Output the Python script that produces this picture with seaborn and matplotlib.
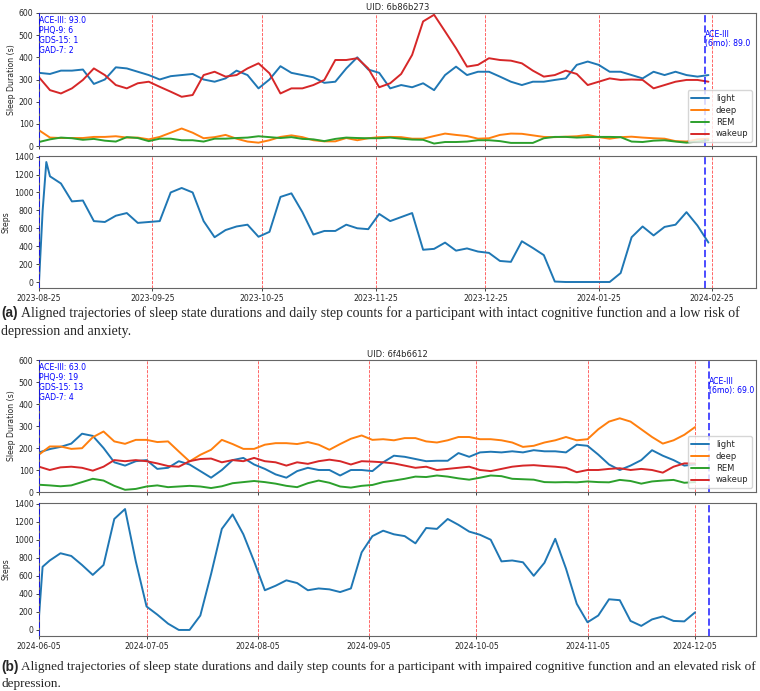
import pandas as pd
import matplotlib
matplotlib.use('Agg')
import matplotlib.pyplot as plt
import matplotlib.dates as mdates
import seaborn as sns

# participant (a): sleep values every 3 days from the start date
uid_a = 'UID: 6b86b273'
start_a = '2023-08-25'
light_a = [330, 325, 340, 340, 345, 280, 300, 355, 350, 335, 320, 300, 315, 320, 325, 300,
           290, 305, 340, 320, 260, 300, 360, 330, 320, 310, 285, 290, 350, 400, 345, 330,
           260, 275, 265, 283, 252, 320, 358, 320, 335, 335, 313, 290, 275, 290, 290, 298,
           305, 366, 381, 366, 335, 335, 320, 305, 335, 320, 335, 320, 313, 320]
deep_a = [71, 38, 36, 36, 36, 41, 41, 44, 38, 38, 30, 41, 60, 79, 60, 35,
          40, 50, 33, 20, 15, 26, 41, 48, 40, 26, 21, 21, 36, 26, 35, 40,
          41, 40, 33, 33, 45, 56, 50, 45, 33, 35, 50, 56, 55, 48, 41, 40,
          42, 44, 50, 40, 33, 40, 42, 38, 35, 33, 22, 20, 30, 33]
rem_a = [18, 30, 38, 35, 28, 32, 24, 20, 40, 36, 22, 33, 33, 26, 26, 20,
         33, 33, 36, 38, 44, 40, 36, 40, 32, 30, 22, 32, 38, 36, 35, 35,
         38, 33, 29, 28, 11, 18, 18, 20, 26, 26, 22, 14, 14, 14, 35, 41,
         41, 38, 40, 41, 41, 40, 20, 18, 24, 26, 20, 15, 20, 26]
wakeup_a = [310, 252, 237, 260, 298, 350, 320, 275, 260, 283, 290, 267, 245, 222, 230, 320,
            335, 313, 320, 350, 373, 328, 237, 260, 260, 275, 298, 388, 388, 396, 350, 265,
            283, 325, 411, 562, 592, 517, 441, 358, 366, 396, 388, 385, 373, 340, 313, 320,
            340, 325, 275, 290, 305, 298, 300, 298, 260, 275, 290, 298, 298, 290]
# steps: days 0, 1, 2, then every 3 days from day 3
steps_a = [0, 800, 1340,
           1180, 1100, 900, 910, 680, 670, 740, 770, 660, 670, 680, 1000, 1050, 1000, 680,
           500, 580, 620, 640, 505, 560, 950, 990, 780, 530, 570, 570, 640, 600, 590, 760,
           680, 725, 770, 360, 370, 440, 350, 375, 340, 325, 235, 225, 455, 380, 300, 5,
           0, 0, 0, 0, 0, 100, 500, 620, 520, 615, 640, 780, 630, 440]
steps_days_a = [0, 1, 2] + list(range(3, 184, 3))
scores_a = 'ACE-III: 93.0\nPHQ-9: 6\nGDS-15: 1\nGAD-7: 2'
followup_a = 'ACE-III\n(6mo): 89.0'
followup_day_a = 182
end_day_a = 196
caption_a = ['Aligned trajectories of sleep state durations and daily step counts for a participant '
             'with intact cognitive function and a low risk of',
             'depression and anxiety.']

# participant (b)
uid_b = 'UID: 6f4b6612'
start_b = '2024-06-05'
light_b = [180, 195, 205, 220, 265, 255, 200, 135, 120, 140, 145, 105, 110, 140, 125, 95,
           65, 100, 145, 155, 125, 105, 80, 65, 95, 110, 100, 100, 75, 100, 100, 95,
           135, 165, 160, 150, 140, 142, 142, 177, 160, 180, 183, 180, 185, 180, 190, 185,
           185, 180, 215, 210, 170, 125, 100, 120, 145, 190, 165, 145, 120, 125]
deep_b = [170, 207, 207, 196, 199, 249, 275, 230, 219, 237, 237, 227, 230, 184, 139, 169,
          192, 237, 218, 196, 196, 215, 222, 222, 218, 227, 215, 192, 218, 242, 257, 237,
          240, 235, 245, 245, 230, 225, 235, 250, 250, 240, 240, 235, 225, 205, 210, 225,
          235, 250, 235, 240, 285, 320, 335, 320, 285, 250, 220, 235, 260, 295]
rem_b = [33, 30, 26, 30, 45, 60, 52, 28, 10, 14, 25, 30, 22, 25, 28, 25,
         18, 26, 40, 45, 50, 45, 38, 28, 22, 40, 52, 42, 25, 20, 28, 32,
         45, 52, 60, 70, 68, 75, 70, 62, 56, 65, 75, 72, 60, 58, 56, 45,
         44, 45, 44, 48, 45, 44, 55, 50, 38, 48, 52, 55, 42, 45]
wakeup_b = [115, 100, 112, 115, 110, 97, 115, 145, 140, 145, 140, 130, 118, 115, 140, 150,
            152, 135, 145, 140, 155, 140, 135, 120, 135, 128, 140, 147, 140, 125, 140, 138,
            135, 130, 120, 110, 115, 100, 105, 110, 115, 100, 95, 105, 115, 120, 122, 118,
            115, 110, 90, 100, 100, 105, 108, 100, 105, 100, 88, 115, 130, 130]
steps_b = [150, 700, 770, 850, 820, 720, 610, 720, 1230, 1340, 760, 260, 170, 70, 0, 0, 160,
           620, 1120, 1280, 1060, 760, 440, 490, 550, 520, 440, 460, 450, 420, 460, 860, 1040,
           1100, 1060, 1040, 960, 1130, 1120, 1230, 1165, 1090, 1055, 1000, 760, 770, 750, 600, 745,
           1010, 680, 290, 85, 160, 340, 330, 100, 45, 117, 150, 100, 95, 195]
steps_days_b = [0, 1] + list(range(3, 184, 3))
scores_b = 'ACE-III: 63.0\nPHQ-9: 19\nGDS-15: 13\nGAD-7: 4'
followup_b = 'ACE-III\n(6mo): 69.0'
followup_day_b = 187
end_day_b = 200
caption_b = ['Aligned trajectories of sleep state durations and daily step counts for a participant '
             'with impaired cognitive function and an elevated risk of',
             'depression.']

stages = ['light', 'deep', 'REM', 'wakeup']
colors = {'light': '#1f77b4', 'deep': '#ff7f0e', 'REM': '#2ca02c', 'wakeup': '#d62728'}

sns.set_style('ticks')
plt.rcParams['font.family'] = ['DejaVu Sans']
plt.rcParams['axes.edgecolor'] = '0.4'
plt.rcParams['axes.linewidth'] = 0.8
fs = 5.6

W, H = 760, 691
fig = plt.figure(figsize=(7.6, 6.91), dpi=100)


def box(top, bottom):
    return [39 / W, 1 - bottom / H, (756 - 39) / W, (bottom - top) / H]


def panel(top_box, bot_box, uid, start, series, steps, steps_days, scores, fu_text,
          fu_day, end_day, tick_day):
    t0 = pd.Timestamp(start)
    dates = pd.date_range(start, periods=len(series[0]), freq='3D')
    step_dates = t0 + pd.to_timedelta(steps_days, unit='D')
    fu = t0 + pd.Timedelta(days=fu_day)
    t1 = t0 + pd.Timedelta(days=end_day)
    df = pd.DataFrame({'date': dates, **dict(zip(stages, series))})
    long = df.melt(id_vars='date', var_name='stage', value_name='dur')

    ax1 = fig.add_axes(box(*top_box))
    ax2 = fig.add_axes(box(*bot_box), sharex=ax1)
    sns.lineplot(data=long, x='date', y='dur', hue='stage', palette=colors,
                 lw=1.4, ax=ax1)
    sns.lineplot(x=step_dates, y=steps, color=colors['light'], lw=1.4, ax=ax2)

    ax1.set_ylim(0, 600)
    ax1.set_xlim(t0, t1)
    ax1.set_title(uid, fontsize=6, pad=2)
    ax1.set_ylabel('Sleep Duration (s)', fontsize=fs, labelpad=2)
    ax2.set_ylabel('Steps', fontsize=fs, labelpad=2)
    ax1.set_xlabel('')
    ax2.set_xlabel('')
    ax2.xaxis.set_major_locator(mdates.MonthLocator(bymonthday=tick_day))
    ax2.xaxis.set_major_formatter(mdates.DateFormatter('%Y-%m-%d'))
    plt.setp(ax1.get_xticklabels(), visible=False)
    for ax in (ax1, ax2):
        ax.tick_params(labelsize=fs, length=2.5, width=0.6, pad=1.5)
        for t in ax2.get_xticks():
            ax.axvline(t, color='red', ls='--', lw=0.6, alpha=0.7, zorder=0)
        ax.axvline(t0, color='blue', ls='--', lw=1.1, zorder=3)
        ax.axvline(fu, color='blue', ls='--', lw=1.4, alpha=0.7, zorder=3)

    ax1.text(t0, 585, scores, color='blue', fontsize=fs, va='top', ha='left',
             linespacing=1.15)
    ax1.text(fu, 525, fu_text, color='blue', fontsize=fs, va='top', ha='left',
             linespacing=1.1)
    ax1.legend(loc='lower right', fontsize=6, handlelength=2.2, borderpad=0.4,
               labelspacing=0.35, handletextpad=0.8, title=None)


def caption(y1, y2, tag, lines, size):
    fig.text(1 / W, 1 - y1 / H, tag, fontsize=9.8, fontweight='bold',
             family='Liberation Sans', va='center', ha='left')
    fig.text(21 / W, 1 - y1 / H, lines[0], fontsize=size, family='Liberation Serif',
             va='center', ha='left')
    fig.text(1 / W, 1 - y2 / H, lines[1], fontsize=size, family='Liberation Serif',
             va='center', ha='left')


panel((13, 146), (156, 288), uid_a, start_a,
      [light_a, deep_a, rem_a, wakeup_a], steps_a, steps_days_a, scores_a, followup_a,
      followup_day_a, end_day_a, 25)
panel((360, 492), (503, 636), uid_b, start_b,
      [light_b, deep_b, rem_b, wakeup_b], steps_b, steps_days_b, scores_b, followup_b,
      followup_day_b, end_day_b, 5)

caption(313, 331, '(a)', caption_a, 10.0)
caption(667, 684, '(b)', caption_b, 9.5)

fig.savefig('out.png', dpi=100)
